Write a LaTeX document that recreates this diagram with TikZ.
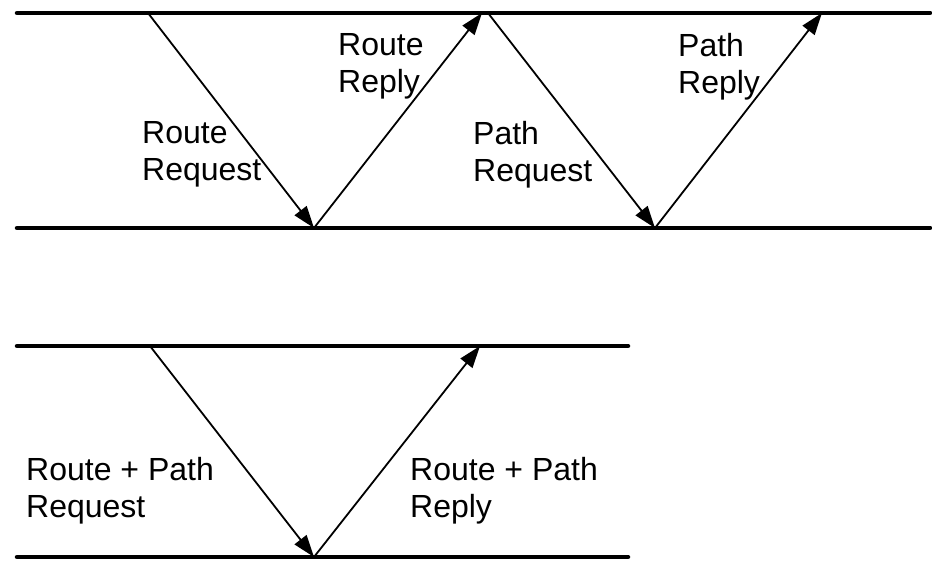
\documentclass[tikz,border=0pt]{standalone}
\usepackage{fontspec}
\setmainfont{Liberation Sans}
\usetikzlibrary{arrows.meta}
\tikzset{%
  wire/.style  = {line width=4.5pt, line cap=round},%
  msg/.style   = {line width=1.8pt, -{Triangle[length=22pt,width=15pt]}},%
  lbl/.style   = {anchor=north west, inner sep=0pt, align=left,%
                  font=\fontsize{32}{37}\selectfont}%
}
\begin{document}
\begin{tikzpicture}[x=1pt,y=-1pt]
	\useasboundingbox (0,0) rectangle (932,561);
	% separate route and path discovery
	\coordinate (s1) at (17,13);   \coordinate (e1) at (930,13);
	\coordinate (s2) at (17,228);  \coordinate (e2) at (930,228);
	\draw [wire] (s1) -- (e1);
	\draw [wire] (s2) -- (e2);
	\coordinate (a1) at (148,13);
	\coordinate (b1) at (314,228);
	\coordinate (a2) at (482,13);
	\coordinate (a3) at (488,13);
	\coordinate (b2) at (655,228);
	\coordinate (a4) at (822,13);
	\draw [msg] (a1) -- (b1);
	\draw [msg] (b1) -- (a2);
	\draw [msg] (a3) -- (b2);
	\draw [msg] (b2) -- (a4);
	\node [lbl] (rreq) at (142,121) {Route\\Request};
	\node [lbl] (rrep) at (338,33)  {Route\\Reply};
	\node [lbl] (preq) at (473,121) {Path\\Request};
	\node [lbl] (prep) at (678,33)  {Path\\Reply};
	% combined discovery
	\coordinate (s3) at (17,346);  \coordinate (e3) at (628,346);
	\coordinate (s4) at (17,557);  \coordinate (e4) at (628,557);
	\draw [wire] (s3) -- (e3);
	\draw [wire] (s4) -- (e4);
	\coordinate (c1) at (150,346);
	\coordinate (d1) at (314,557);
	\coordinate (c2) at (480,346);
	\draw [msg] (c1) -- (d1);
	\draw [msg] (d1) -- (c2);
	\node [lbl] (rpreq) at (26,457)  {Route + Path\\Request};
	\node [lbl] (rprep) at (410,457) {Route + Path\\Reply};
\end{tikzpicture}
\end{document}
